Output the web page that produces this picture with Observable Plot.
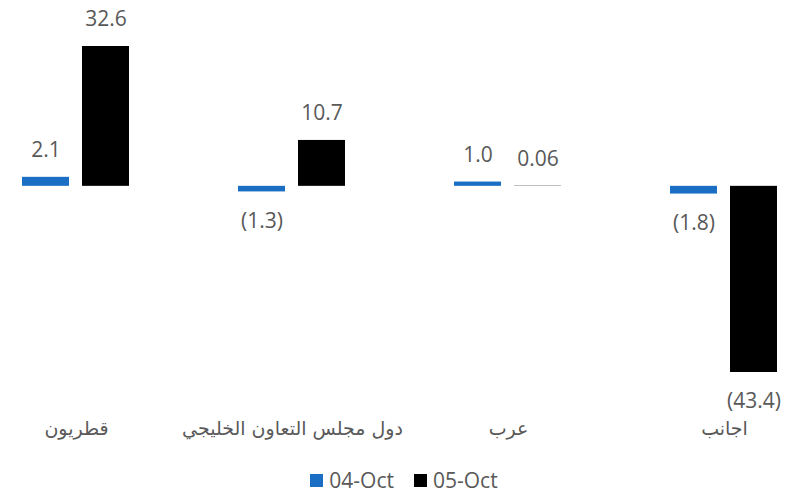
<!DOCTYPE html>
<html>
<head>
<meta charset="utf-8">
<script src="https://cdn.jsdelivr.net/npm/d3@7"></script>
<script src="https://cdn.jsdelivr.net/npm/@observablehq/plot@0.6"></script>
<style>
  html, body { margin: 0; padding: 0; background: #fff; overflow: hidden; }
  #chart svg { display: block; }
  .legend { display: flex; justify-content: center; align-items: center; height: 25px; margin-left: 20px;
    font-family: "Open Sans", sans-serif; font-size: 21px; line-height: 25px; color: #595959; }
  .legend .item { display: flex; align-items: center; margin: 0 10px; }
  .legend .sw { width: 13px; height: 13px; margin-right: 6px; }
</style>
</head>
<body>
<div id="chart"></div>
<script>
const categories = ["قطريون", "دول مجلس التعاون الخليجي", "عرب", "اجانب"];
const series = ["04-Oct", "05-Oct"];
const oct04 = [2.1, -1.3, 1.0, -1.8];
const oct05 = [32.6, 10.7, 0.06, -43.4];
const labels04 = ["2.1", "(1.3)", "1.0", "(1.8)"];
const labels05 = ["32.6", "10.7", "0.06", "(43.4)"];
const colors = ["#1a6fc4", "#000000"];

const data = categories.flatMap((c, i) => [
  {cat: c, series: series[0], value: oct04[i], label: labels04[i]},
  {cat: c, series: series[1], value: oct05[i], label: labels05[i]}
]);

const chart = Plot.plot({
  width: 788,
  height: 468,
  marginTop: 46,
  marginBottom: 96,
  marginLeft: 12,
  marginRight: 0,
  style: {fontFamily: "'Open Sans', 'DejaVu Sans', sans-serif", background: "#fff"},
  facet: {data, x: "cat"},
  fx: {domain: categories, paddingInner: 0.5, paddingOuter: 0.0405, axis: null, label: null},
  x: {domain: series, paddingInner: 0.213, paddingOuter: 0, axis: null},
  y: {domain: [-43.4, 32.6], axis: null},
  color: {domain: series, range: colors},
  marks: [
    Plot.barY(data, {x: "series", y: "value", fill: "series"}),
    Plot.text(data, {filter: d => d.value >= 0, x: "series", y: "value", text: "label", dy: -27, fontSize: 21, fill: "#595959"}),
    Plot.text(data, {filter: d => d.value < 0, x: "series", y: "value", text: "label", dy: 29, fontSize: 21, fill: "#595959"}),
    Plot.text(data, {filter: d => d.series === series[0], text: "cat", frameAnchor: "bottom", dy: 62, fontSize: 19, fill: "#595959", fontFamily: "'DejaVu Sans', sans-serif"})
  ]
});
document.getElementById("chart").appendChild(chart);

const legend = document.createElement("div");
legend.className = "legend";
series.forEach((s, i) => {
  const item = document.createElement("div");
  item.className = "item";
  const sw = document.createElement("span");
  sw.className = "sw";
  sw.style.background = colors[i];
  const t = document.createElement("span");
  t.textContent = s;
  item.appendChild(sw);
  item.appendChild(t);
  legend.appendChild(item);
});
document.body.appendChild(legend);
</script>
</body>
</html>
